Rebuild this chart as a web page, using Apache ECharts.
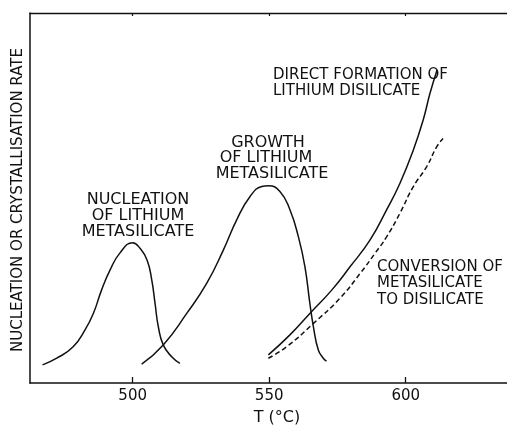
<!DOCTYPE html>
<html>
<head>
<meta charset="utf-8">
<script src="https://cdn.jsdelivr.net/npm/echarts@6/dist/echarts.min.js"></script>
<style>
  html, body { margin: 0; padding: 0; background: #fff; }
  #chart { width: 507px; height: 427px; }
</style>
</head>
<body>
<div id="chart"></div>
<script>
// Temperature ticks (°C)
var tempTicks = [500, 550, 600];

// Nucleation rate of lithium metasilicate: [T, rate]
var nucleation = [
  [467.0, 4.9], [472.2, 6.7], [478.2, 9.8], [482.5, 14.3], [485.6, 18.8],
  [488.6, 25.1], [491.7, 30.5], [495.3, 35.1], [500.0, 37.9], [502.7, 36.4],
  [505.3, 33.2], [507.0, 27.8], [508.2, 21.5], [509.4, 15.2], [511.2, 10.3],
  [514.3, 7.1], [517.3, 5.3]
];

// Growth rate of lithium metasilicate
var growth = [
  [503.3, 5.1], [511.2, 10.3], [519.8, 18.8], [527.1, 26.9], [533.2, 35.9],
  [538.1, 44.1], [543.0, 50.4], [547.3, 53.1], [549.7, 53.3], [554.0, 51.7],
  [557.6, 46.8], [560.7, 39.5], [563.1, 31.4], [564.9, 21.5], [566.2, 15.2],
  [568.0, 8.9], [569.8, 6.7], [571.0, 5.9]
];

// Direct formation of lithium disilicate
var directFormation = [
  [549.7, 7.6], [557.6, 13.0], [564.9, 18.8], [572.9, 25.1], [579.6, 31.4],
  [586.9, 38.6], [593.0, 46.8], [597.9, 54.0], [602.8, 63.0], [606.4, 71.1],
  [608.9, 78.3], [611.5, 84.6]
];

// Conversion of metasilicate to disilicate
var conversion = [
  [549.7, 6.7], [556.4, 9.8], [566.2, 16.1], [575.9, 22.9], [583.3, 29.6],
  [588.8, 35.1], [593.0, 39.5], [597.9, 45.9], [602.8, 53.1], [607.7, 58.5],
  [611.4, 63.9], [613.7, 66.1]
];

var FONT = '"DejaVu Sans", sans-serif';
var INK = '#111';

function curve(name, data, dashed) {
  return {
    name: name,
    type: 'line',
    data: data,
    smooth: 0.5,
    showSymbol: false,
    silent: true,
    lineStyle: {
      color: INK,
      width: 1.5,
      type: dashed ? [5, 3] : 'solid'
    }
  };
}

function text(str, x, y, size, align) {
  return {
    type: 'text',
    x: x,
    y: y,
    style: {
      text: str,
      fill: INK,
      font: size + 'px ' + FONT,
      align: align || 'center',
      verticalAlign: 'middle'
    }
  };
}

var chart = echarts.init(document.getElementById('chart'), null, { renderer: 'canvas' });

chart.setOption({
  backgroundColor: '#fff',
  animation: false,
  grid: { left: 30, right: 0, top: 13, bottom: 44 },
  xAxis: [
    {
      type: 'value',
      position: 'bottom',
      min: 462.4,
      max: 637.1,
      axisLine: { show: true, lineStyle: { color: INK, width: 1.6 } },
      axisTick: { show: true, inside: true, length: 6, customValues: tempTicks, lineStyle: { color: INK, width: 1.3 } },
      axisLabel: { show: true, customValues: tempTicks, margin: 6, color: INK, fontSize: 15, fontFamily: FONT },
      splitLine: { show: false }
    },
    {
      type: 'value',
      position: 'top',
      min: 462.4,
      max: 637.1,
      axisLine: { show: true, lineStyle: { color: INK, width: 1.4 } },
      axisTick: { show: true, inside: true, length: 3, customValues: tempTicks, lineStyle: { color: INK, width: 1.2 } },
      axisLabel: { show: false },
      splitLine: { show: false }
    }
  ],
  yAxis: {
    type: 'value',
    min: 0,
    max: 100,
    axisLine: { show: true, lineStyle: { color: INK, width: 1.5 } },
    axisTick: { show: false },
    axisLabel: { show: false },
    splitLine: { show: false }
  },
  series: [
    curve('Nucleation of lithium metasilicate', nucleation, false),
    curve('Growth of lithium metasilicate', growth, false),
    curve('Direct formation of lithium disilicate', directFormation, false),
    curve('Conversion of metasilicate to disilicate', conversion, true)
  ],
  graphic: [
    // axis titles
    text('T (°C)', 277, 418, 16),
    {
      type: 'text',
      x: 18,
      y: 200,
      rotation: Math.PI / 2,
      style: {
        text: 'NUCLEATION OR CRYSTALLISATION RATE',
        fill: INK,
        font: '15px ' + FONT,
        align: 'center',
        verticalAlign: 'middle'
      }
    },
    // curve annotations
    text('NUCLEATION', 138, 200, 16),
    text('OF LITHIUM', 138, 216, 16),
    text('METASILICATE', 138, 232, 16),

    text('GROWTH', 268, 143, 16),
    text('OF LITHIUM', 266, 158, 16),
    text('METASILICATE', 272, 174, 16),

    text('DIRECT FORMATION OF', 273, 75, 15, 'left'),
    text('LITHIUM DISILICATE', 273, 91, 15, 'left'),

    text('CONVERSION OF', 377, 267, 15, 'left'),
    text('METASILICATE', 377, 283, 15, 'left'),
    text('TO DISILICATE', 377, 300, 15, 'left')
  ]
});
</script>
</body>
</html>
